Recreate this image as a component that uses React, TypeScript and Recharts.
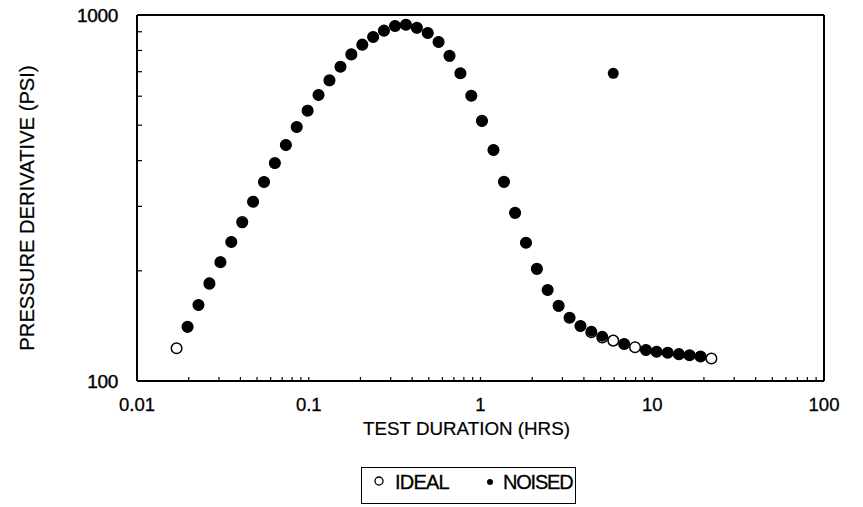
import React from 'react';
import { ScatterChart, Scatter, XAxis, YAxis, ReferenceLine, Label } from 'recharts';

// Test duration (hrs) of each sample
const durationHrs = [
  0.0170, 0.0197, 0.0228, 0.0264, 0.0306, 0.0354, 0.0410, 0.0474, 0.0549, 0.0635,
  0.0736, 0.0851, 0.0985, 0.114, 0.132, 0.153, 0.177, 0.205, 0.237, 0.274,
  0.318, 0.368, 0.426, 0.493, 0.570, 0.660, 0.764, 0.884, 1.02, 1.19,
  1.37, 1.59, 1.84, 2.13, 2.46, 2.85, 3.30, 3.82, 4.42, 5.12,
  5.93, 6.86, 7.94, 9.19, 10.6, 12.3, 14.3, 16.5, 19.1, 22.1,
];

// Ideal pressure derivative (psi)
const idealDerivative = [
  122.9, 140.7, 161.3, 184.5, 211.0, 239.8, 271.9, 309.0, 349.7, 394.1,
  441.4, 494.1, 547.6, 604.6, 663.1, 722.2, 780.7, 829.8, 870.9, 906.1,
  933.1, 940.8, 923.2, 893.0, 843.9, 773.8, 693.0, 601.9, 514.3, 427.7,
  350.4, 288.3, 238.7, 202.7, 177.3, 160.6, 148.9, 141.3, 135.9, 131.5,
  128.9, 126.2, 123.6, 121.5, 120.2, 119.5, 118.4, 117.6, 116.7, 115.2,
];

// Noised pressure derivative (psi); null = no noised sample drawn
const noisedDerivative = [
  null, 140.3, 161.3, 185.4, 211.8, 239.8, 270.6, 309.0, 349.7, 393.0,
  441.4, 494.1, 549.5, 604.6, 661.0, 722.2, 780.7, 829.8, 870.9, 906.1,
  933.1, 940.8, 921.0, 893.0, 843.9, 771.0, 693.0, 601.9, 512.0, 427.7,
  349.0, 287.2, 238.7, 202.0, 177.3, 160.0, 148.9, 141.3, 136.8, 132.6,
  693.0, 126.2, null, 121.5, 120.2, 119.5, 118.4, 117.6, 116.7, null,
];

const xMajorTicks = [0.01, 0.1, 1, 10, 100];
const xTickLabels = ['0.01', '0.1', '1', '10', '100'];
const xMinorTicks = [
  0.02, 0.03, 0.04, 0.05, 0.06, 0.07, 0.08, 0.09,
  0.2, 0.3, 0.4, 0.5, 0.6, 0.7, 0.8, 0.9,
  2, 3, 4, 5, 6, 7, 8, 9,
  20, 30, 40, 50, 60, 70, 80, 90,
];
const yMajorTicks = [100, 1000];
const yTickLabels = ['100', '1000'];
const yMinorTicks = [200, 300, 400, 500, 600, 700, 800, 900];

const seriesNames = ['IDEAL', 'NOISED'];
const xTitle = 'TEST DURATION (HRS)';
const yTitle = 'PRESSURE DERIVATIVE (PSI)';

const idealData = durationHrs.map((x, i) => ({ x, y: idealDerivative[i] }));
const noisedData = durationHrs
  .map((x, i) => ({ x, y: noisedDerivative[i] }))
  .filter((d) => d.y !== null);

const xAllTicks = [...xMajorTicks, ...xMinorTicks].sort((a, b) => a - b);
const yAllTicks = [...yMajorTicks, ...yMinorTicks].sort((a, b) => a - b);

const FONT = '"Liberation Sans", Arial, Helvetica, sans-serif';

const XTick = (props: any) => {
  const { x, y, payload } = props;
  const idx = xMajorTicks.indexOf(payload.value);
  return (
    <g>
      <line x1={x} y1={y} x2={x} y2={y - 4} stroke="#000" strokeWidth={1.2} />
      {idx >= 0 && (
        <text x={x} y={y + 30} textAnchor="middle" fontSize={18.5} fontFamily={FONT} fill="#000" stroke="#000" strokeWidth={0.3}>
          {xTickLabels[idx]}
        </text>
      )}
    </g>
  );
};

const YTick = (props: any) => {
  const { x, y, payload } = props;
  const idx = yMajorTicks.indexOf(payload.value);
  return (
    <g>
      <line x1={x} y1={y} x2={x + 5} y2={y} stroke="#000" strokeWidth={1.2} />
      {idx >= 0 && (
        <text x={x - 19} y={y + 6.5} textAnchor="end" fontSize={19} fontFamily={FONT} fill="#000" stroke="#000" strokeWidth={0.4} letterSpacing={-0.3}>
          {yTickLabels[idx]}
        </text>
      )}
    </g>
  );
};

const IdealShape = (p: any) => (
  <circle cx={p.cx} cy={p.cy} r={5.3} fill="#fff" stroke="#000" strokeWidth={1.5} />
);
const NoisedShape = (p: any) => <circle cx={p.cx} cy={p.cy} r={5.5} fill="#000" />;

export default function App() {
  return (
    <div style={{ position: 'absolute', left: 0, top: 0, width: 863, height: 507, background: '#fff' }}>
      <ScatterChart width={863} height={507} margin={{ top: 15, right: 39, bottom: 0, left: 0 }}>
        <XAxis
          type="number"
          dataKey="x"
          scale="log"
          domain={[0.01, 100]}
          ticks={xAllTicks}
          interval={0}
          tickSize={0}
          tickMargin={0}
          tick={XTick}
          height={126}
          allowDataOverflow
          axisLine={{ stroke: '#000', strokeWidth: 2 }}
        >
          <Label
            content={(lp: any) => {
              const vb = lp.viewBox;
              return (
                <text x={vb.x + vb.width / 2 - 14} y={vb.y + 54} textAnchor="middle" fontSize={18.8} fontFamily={FONT} fill="#000" stroke="#000" strokeWidth={0.2}>
                  {xTitle}
                </text>
              );
            }}
          />
        </XAxis>
        <YAxis
          type="number"
          dataKey="y"
          scale="log"
          domain={[100, 1000]}
          ticks={yAllTicks}
          interval={0}
          tickSize={0}
          tickMargin={0}
          tick={YTick}
          width={137}
          allowDataOverflow
          axisLine={{ stroke: '#000', strokeWidth: 2 }}
        >
          <Label
            content={() => {
              const cx = 34;
              const cy = 208;
              return (
                <text x={cx} y={cy} transform={`rotate(-90, ${cx}, ${cy})`} textAnchor="middle" fontSize={20.2} fontFamily={FONT} fill="#000" stroke="#000" strokeWidth={0.2}>
                  {yTitle}
                </text>
              );
            }}
          />
        </YAxis>
        <ReferenceLine y={1000} stroke="#000" strokeWidth={2} />
        <ReferenceLine x={100} stroke="#000" strokeWidth={2} />
        <Scatter name={seriesNames[0]} data={idealData} shape={IdealShape} isAnimationActive={false} />
        <Scatter name={seriesNames[1]} data={noisedData} shape={NoisedShape} isAnimationActive={false} />
      </ScatterChart>
      <div
        style={{
          position: 'absolute',
          left: 361,
          top: 467,
          width: 215,
          height: 37,
          border: '1.2px solid #000',
          boxSizing: 'border-box',
        }}
      >
        <svg width={213} height={35} style={{ display: 'block' }}>
          <circle cx={17} cy={13} r={4} fill="#fff" stroke="#000" strokeWidth={1.3} />
          <text x={33} y={20.5} fontSize={20} fontFamily={FONT} fill="#000" stroke="#000" strokeWidth={0.3} letterSpacing={-0.8}>
            {seriesNames[0]}
          </text>
          <circle cx={128} cy={14} r={3} fill="#000" />
          <text x={141} y={20.5} fontSize={20} fontFamily={FONT} fill="#000" stroke="#000" strokeWidth={0.3} letterSpacing={-1.2}>
            {seriesNames[1]}
          </text>
        </svg>
      </div>
    </div>
  );
}
